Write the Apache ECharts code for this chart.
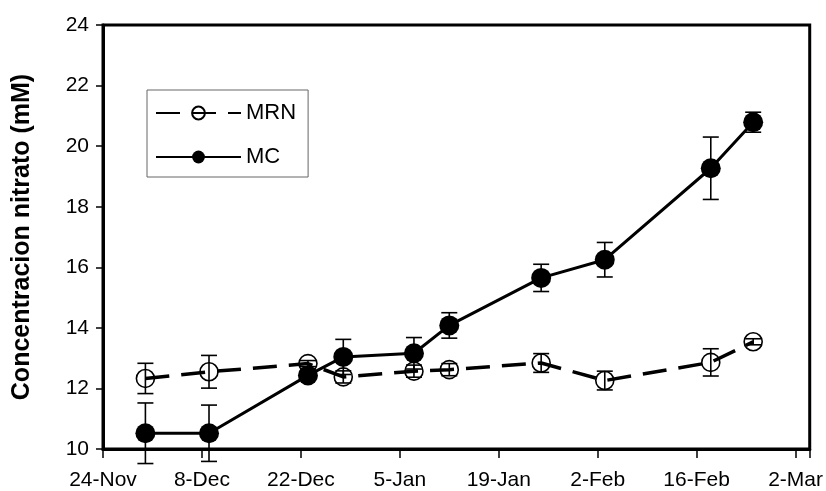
<!DOCTYPE html>
<html>
<head>
<meta charset="utf-8">
<script src="https://cdn.jsdelivr.net/npm/echarts@6/dist/echarts.min.js"></script>
<style>
html,body{margin:0;padding:0;background:#fff;}
#chart{width:826px;height:491px;}
</style>
</head>
<body>
<div id="chart"></div>
<script>
// ---- data ----
var startDate = '2006-11-24';
var sampleDates = ['2006-11-30','2006-12-09','2006-12-23','2006-12-28','2007-01-07','2007-01-12','2007-01-25','2007-02-03','2007-02-18','2007-02-24'];
var mrnValues = [12.33, 12.55, 12.82, 12.38, 12.57, 12.62, 12.84, 12.26, 12.86, 13.54];
var mrnErrors = [0.50, 0.54, 0.10, 0.20, 0.20, 0.20, 0.31, 0.31, 0.45, 0.10];
var mcValues  = [10.52, 10.52, 12.43, 13.04, 13.16, 14.08, 15.65, 16.25, 19.27, 20.79];
var mcErrors  = [1.00, 0.93, 0.15, 0.58, 0.52, 0.42, 0.45, 0.57, 1.03, 0.33];
var xTickLabels = ['24-Nov','8-Dec','22-Dec','5-Jan','19-Jan','2-Feb','16-Feb','2-Mar'];
var seriesNames = ['MRN','MC'];
var yTitle = 'Concentracion nitrato (mM)';

var DAY = 86400000;
var t0 = Date.parse(startDate + 'T00:00:00Z');
function dayOf(s){ return Math.round((Date.parse(s + 'T00:00:00Z') - t0) / DAY); }
var xDays = sampleDates.map(dayOf);

function pairs(vals){ return vals.map(function(v,i){ return [xDays[i], v]; }); }
function errData(vals, errs){ return vals.map(function(v,i){ return [xDays[i], v - errs[i], v + errs[i]]; }); }

function errRender(params, api){
  var x = api.value(0);
  var lo = api.coord([x, api.value(1)]);
  var hi = api.coord([x, api.value(2)]);
  var w = 8;
  var st = {stroke:'#000', lineWidth:1.6};
  return {type:'group', children:[
    {type:'line', shape:{x1:lo[0], y1:lo[1], x2:hi[0], y2:hi[1]}, style:st},
    {type:'line', shape:{x1:lo[0]-w, y1:lo[1], x2:lo[0]+w, y2:lo[1]}, style:st},
    {type:'line', shape:{x1:hi[0]-w, y1:hi[1], x2:hi[0]+w, y2:hi[1]}, style:st}
  ]};
}

var FONT = "'Liberation Sans', Arial, sans-serif";
var chart = echarts.init(document.getElementById('chart'), null, {renderer:'canvas'});
chart.setOption({
  animation:false,
  backgroundColor:'#fff',
  textStyle:{fontFamily:FONT, color:'#000'},
  grid:{left:103, right:14, top:25, bottom:40, show:true, borderColor:'#000', borderWidth:3, backgroundColor:'transparent'},
  legend:{
    data:seriesNames,
    orient:'vertical', left:147, top:90,
    backgroundColor:'#fff', borderColor:'#666', borderWidth:1,
    padding:[12,12,9,8],
    itemWidth:85, itemHeight:16, itemGap:22,
    textStyle:{fontFamily:FONT, fontSize:22, color:'#000', lineHeight:22}
  },
  xAxis:{
    type:'value', min:0, max:100, interval:14,
    axisLine:{show:true, lineStyle:{color:'#000', width:3}},
    axisTick:{show:true, length:9, lineStyle:{color:'#000', width:1.5}},
    axisLabel:{fontFamily:FONT, fontSize:21, color:'#000', margin:21,
      formatter:function(v){ var i = Math.round(v/14); return (v % 14 === 0 && xTickLabels[i]) ? xTickLabels[i] : ''; }},
    splitLine:{show:false}
  },
  yAxis:{
    type:'value', min:10, max:24, interval:2,
    name:yTitle, nameLocation:'middle', nameGap:68,
    nameTextStyle:{fontFamily:FONT, fontSize:25, fontWeight:'bold', color:'#000'},
    axisLine:{show:true, lineStyle:{color:'#000', width:3}},
    axisTick:{show:true, length:7, lineStyle:{color:'#000', width:1.5}},
    axisLabel:{fontFamily:FONT, fontSize:21, color:'#000', margin:14},
    splitLine:{show:false}
  },
  series:[
    {
      name:seriesNames[0], type:'line', data:pairs(mrnValues), z:3,
      symbol:'circle', symbolSize:18,
      itemStyle:{color:'rgba(255,255,255,0)', borderColor:'#000', borderWidth:1.6},
      lineStyle:{color:'#000', width:3.5, type:[24,12]},
      emphasis:{disabled:true}
    },
    {
      name:seriesNames[1], type:'line', data:pairs(mcValues), z:4,
      symbol:'circle', symbolSize:20,
      itemStyle:{color:'#000', borderColor:'#000', borderWidth:0},
      lineStyle:{color:'#000', width:3},
      emphasis:{disabled:true}
    },
    {
      name:'MRN err', type:'custom', renderItem:errRender, data:errData(mrnValues, mrnErrors), z:5, clip:false
    },
    {
      name:'MC err', type:'custom', renderItem:errRender, data:errData(mcValues, mcErrors), z:5, clip:false
    }
  ]
});
</script>
</body>
</html>
